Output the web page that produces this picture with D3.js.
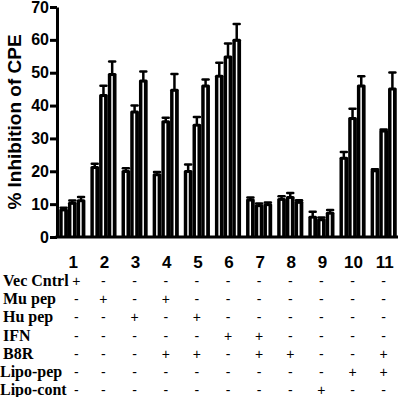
<!DOCTYPE html>
<html>
<head>
<meta charset="utf-8">
<script src="https://cdn.jsdelivr.net/npm/d3@7"></script>
<style>
  body { margin: 0; background: #fff; }
  svg { display: block; }
</style>
</head>
<body>
<div id="chart"></div>
<script>
// bar groups (treatment number) and three bars per group
const groups = ['1', '2', '3', '4', '5', '6', '7', '8', '9', '10', '11'];
const bar1 = [8.4, 21.3, 20.1, 19.1, 20.1, 49.1, 11.4, 11.6, 6.2, 24.1, 20.3];
const bar2 = [10.4, 43.2, 38.2, 35.2, 34.2, 54.9, 9.7, 12.2, 5.4, 36.2, 32.4];
const bar3 = [11.2, 49.6, 47.6, 44.8, 46.1, 60.0, 10.0, 10.7, 7.4, 46.1, 45.2];
const err1 = [0.5, 1.0, 0.8, 0.7, 2.0, 3.9, 0.6, 0.8, 1.5, 1.8, 0.3];
const err2 = [0.7, 2.8, 1.8, 1.1, 2.3, 4.0, 0.5, 1.2, 0.5, 2.8, 0.3];
const err3 = [1.0, 3.8, 2.8, 4.8, 1.8, 4.8, 0.5, 0.5, 0.8, 2.8, 4.9];
const yTicks = [0, 10, 20, 30, 40, 50, 60, 70];

// treatment table under the chart
const rowNames = ['Vec Cntrl', 'Mu pep', 'Hu pep', 'IFN', 'B8R', 'Lipo-pep', 'Lipo-cont'];
const vecCntrl = ['+', '-', '-', '-', '-', '-', '-', '-', '-', '-', '-'];
const muPep    = ['-', '+', '-', '+', '-', '-', '-', '-', '-', '-', '-'];
const huPep    = ['-', '-', '+', '-', '+', '-', '-', '-', '-', '-', '-'];
const ifn      = ['-', '-', '-', '-', '-', '+', '+', '-', '-', '-', '-'];
const b8r      = ['-', '-', '-', '+', '+', '-', '+', '+', '-', '-', '+'];
const lipoPep  = ['-', '-', '-', '-', '-', '-', '-', '-', '-', '+', '+'];
const lipoCont = ['-', '-', '-', '-', '-', '-', '-', '-', '+', '-', '-'];
const rowSigns = [vecCntrl, muPep, huPep, ifn, b8r, lipoPep, lipoCont];

const width = 400, height = 397;
const svg = d3.select('#chart').append('svg')
    .attr('width', width)
    .attr('height', height);

const x = d3.scaleBand()
    .domain(groups)
    .range([58, 398])
    .paddingInner(0.16)
    .paddingOuter(0.04);
const sub = d3.scaleBand()
    .domain([0, 1, 2])
    .range([0, x.bandwidth()]);
const y = d3.scaleLinear()
    .domain([0, 70])
    .range([237, 7]);

const bars = [];
[bar1, bar2, bar3].forEach((s, k) => {
  const e = [err1, err2, err3][k];
  s.forEach((v, i) => bars.push({g: groups[i], k, v, e: e[i]}));
});

// error bars (upper half only)
const eb = svg.append('g').attr('class', 'errors');
eb.selectAll('line.stem')
    .data(bars)
    .join('line')
    .attr('class', 'stem')
    .attr('x1', d => x(d.g) + sub(d.k) + sub.bandwidth() / 2)
    .attr('x2', d => x(d.g) + sub(d.k) + sub.bandwidth() / 2)
    .attr('y1', d => y(d.v))
    .attr('y2', d => y(d.v + d.e))
    .attr('stroke', '#000')
    .attr('stroke-width', 2.5);
eb.selectAll('line.cap')
    .data(bars)
    .join('line')
    .attr('class', 'cap')
    .attr('x1', d => x(d.g) + sub(d.k) + sub.bandwidth() / 2 - 3)
    .attr('x2', d => x(d.g) + sub(d.k) + sub.bandwidth() / 2 + 3)
    .attr('y1', d => y(d.v + d.e))
    .attr('y2', d => y(d.v + d.e))
    .attr('stroke', '#000')
    .attr('stroke-width', 2.5)
    .attr('stroke-linecap', 'round');

// bars: black with a thin white stripe inside
const bg = svg.append('g').attr('class', 'bars');
bg.selectAll('rect.bar')
    .data(bars)
    .join('rect')
    .attr('class', 'bar')
    .attr('x', d => x(d.g) + sub(d.k))
    .attr('y', d => y(d.v) - 1)
    .attr('width', sub.bandwidth())
    .attr('height', d => y(0) - y(d.v) + 1)
    .attr('rx', 1.5)
    .attr('fill', '#000');
bg.selectAll('rect.stripe')
    .data(bars)
    .join('rect')
    .attr('class', 'stripe')
    .attr('x', d => x(d.g) + sub(d.k) + sub.bandwidth() / 2 - 0.9)
    .attr('y', d => y(d.v) + 2)
    .attr('width', 1.5)
    .attr('height', d => Math.max(0, y(0) - y(d.v) - 2))
    .attr('fill', '#fff');

// axes
const yAxis = svg.append('g')
    .attr('transform', 'translate(57,0)')
    .call(d3.axisLeft(y).tickValues(yTicks).tickSize(7).tickSizeOuter(0).tickPadding(1));
yAxis.selectAll('path, line').attr('stroke', '#000').attr('stroke-width', 3);
yAxis.selectAll('text')
    .attr('font-family', 'Liberation Sans, Arial, sans-serif')
    .attr('font-weight', 'bold')
    .attr('font-size', 16)
    .attr('fill', '#000');

const xAxis = svg.append('g')
    .attr('transform', 'translate(0,' + y(0) + ')')
    .call(d3.axisBottom(x).tickSize(0).tickSizeOuter(0).tickFormat(''));
xAxis.select('path').attr('stroke', '#000').attr('stroke-width', 3)
    .attr('d', 'M55.5,0H398');

svg.append('text')
    .attr('transform', 'translate(21,' + 122 + ') rotate(-90)')
    .attr('text-anchor', 'middle')
    .attr('font-family', 'Liberation Sans, Arial, sans-serif')
    .attr('font-weight', 'bold')
    .attr('font-size', 19)
    .text('% Inhibition of CPE');

// group numbers
svg.append('g').selectAll('text')
    .data(groups)
    .join('text')
    .attr('x', d => x(d) + x.bandwidth() / 2 + 1)
    .attr('y', 268)
    .attr('text-anchor', 'middle')
    .attr('font-family', 'Liberation Sans, Arial, sans-serif')
    .attr('font-weight', 'bold')
    .attr('font-size', 17)
    .text(d => d);

// treatment table
const rowY = d3.scalePoint()
    .domain(rowNames)
    .range([286, 395]);

svg.append('g').selectAll('text')
    .data(rowNames)
    .join('text')
    .attr('x', d => d.startsWith('Lipo') ? 0 : 3)
    .attr('y', d => rowY(d))
    .attr('font-family', 'Liberation Serif, Times New Roman, serif')
    .attr('font-weight', 'bold')
    .attr('font-size', 16)
    .text(d => d);

const cells = [];
rowSigns.forEach((row, r) => row.forEach((s, i) => cells.push({r: rowNames[r], g: groups[i], s})));
svg.append('g').selectAll('text')
    .data(cells)
    .join('text')
    .attr('x', d => x(d.g) + x.bandwidth() / 2 + (d.g === '1' ? 4 : 0))
    .attr('y', d => rowY(d.r))
    .attr('text-anchor', 'middle')
    .attr('font-family', 'Liberation Sans, Arial, sans-serif')
    .attr('font-size', 14)
    .text(d => d.s);
</script>
</body>
</html>
